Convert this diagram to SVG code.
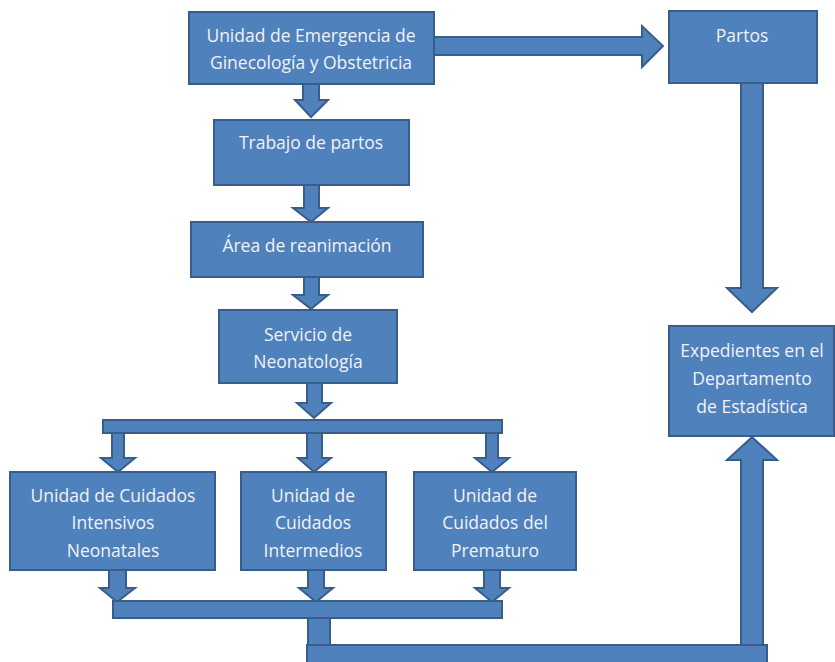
<svg xmlns="http://www.w3.org/2000/svg" width="835" height="662" viewBox="0 0 835 662">
<style>
.box{fill:#4F81BD;stroke:#385D8A;stroke-width:2}
.ar{fill:#4F81BD;stroke:#385D8A;stroke-width:2;stroke-linejoin:miter}
text{font-family:"Open Sans",Lato,"Liberation Sans",sans-serif;font-size:17.5px;fill:#F2F2F2;text-anchor:middle}
</style>
<rect width="835" height="662" fill="#FFFFFF"/>
<g id="connectors">
<polygon class="ar" points="434,37 642,37 642,26 663,46 642,67 642,55 434,55"/>
<polygon class="ar" points="303,84 319,84 319,100 328,100 311,117 295,100 303,100"/>
<polygon class="ar" points="304,185 319,185 319,208 328,208 311,222 293,208 304,208"/>
<polygon class="ar" points="304,277 319,277 319,295 328,295 311,309 293,295 304,295"/>
<polygon class="ar" points="307,383 322,383 322,403 331,403 314,418 297,403 307,403"/>
<rect class="ar" x="103" y="420" width="399" height="13"/>
<polygon class="ar" points="112,433 124,433 124,458 135,458 118,472 101,458 112,458"/>
<polygon class="ar" points="307,433 322,433 322,458 331,458 314,472 298,458 307,458"/>
<polygon class="ar" points="486,433 498,433 498,458 509,458 492,472 475,458 486,458"/>
<polygon class="ar" points="109,570 126,570 126,588 135,588 117,602 100,588 109,588"/>
<polygon class="ar" points="308,570 324,570 324,588 333,588 316,602 299,588 308,588"/>
<polygon class="ar" points="484,570 500,570 500,588 509,588 492,602 475,588 484,588"/>
<rect class="ar" x="113" y="601" width="389" height="17"/>
<rect class="ar" x="308" y="618" width="22" height="28"/>
<polygon class="ar" points="741,83 763,83 763,288 777,288 752,312 727,288 741,288"/>
<polygon class="ar" points="741,646 763,646 763,460 777,460 752,437 727,460 741,460"/>
<rect class="ar" x="307" y="645" width="460" height="20"/>
</g>
<g id="n-emergencia">
<rect class="box" x="189" y="12" width="245" height="72"/>
<text x="311" y="42">Unidad de Emergencia de</text>
<text x="311" y="69">Ginecología y Obstetricia</text>
</g>
<g id="n-partos">
<rect class="box" x="669" y="11" width="148" height="72"/>
<text x="742" y="42">Partos</text>
</g>
<g id="n-trabajo">
<rect class="box" x="214" y="120" width="195" height="65"/>
<text x="311" y="149">Trabajo de partos</text>
</g>
<g id="n-area">
<rect class="box" x="191" y="222" width="232" height="55"/>
<text x="307" y="252">Área de reanimación</text>
</g>
<g id="n-servicio">
<rect class="box" x="219" y="310" width="178" height="73"/>
<text x="308" y="341">Servicio de</text>
<text x="308" y="368">Neonatología</text>
</g>
<g id="n-expedientes">
<rect class="box" x="669" y="326" width="165" height="110"/>
<text x="752" y="357">Expedientes en el</text>
<text x="752" y="385">Departamento</text>
<text x="752" y="413">de Estadística</text>
</g>
<g id="n-ucin">
<rect class="box" x="10" y="472" width="205" height="98"/>
<text x="113" y="502">Unidad de Cuidados</text>
<text x="113" y="529">Intensivos</text>
<text x="113" y="557">Neonatales</text>
</g>
<g id="n-intermedios">
<rect class="box" x="241" y="472" width="145" height="98"/>
<text x="313" y="502">Unidad de</text>
<text x="313" y="529">Cuidados</text>
<text x="313" y="557">Intermedios</text>
</g>
<g id="n-prematuro">
<rect class="box" x="414" y="472" width="162" height="98"/>
<text x="495" y="502">Unidad de</text>
<text x="495" y="529">Cuidados del</text>
<text x="495" y="557">Prematuro</text>
</g>
</svg>
